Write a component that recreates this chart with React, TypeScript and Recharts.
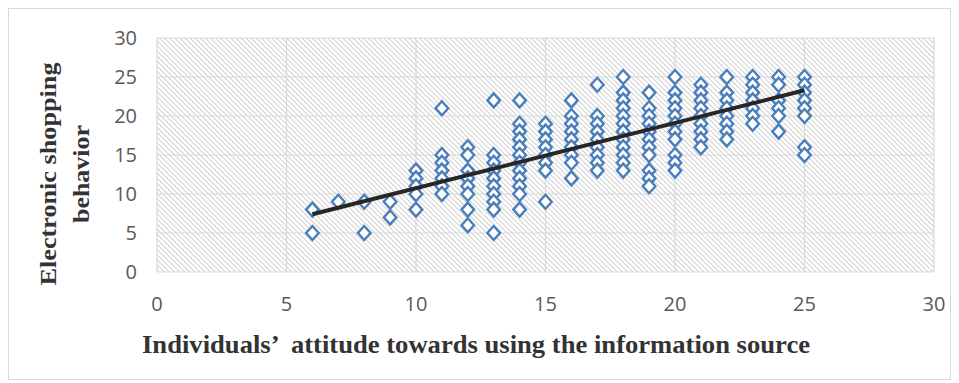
import React from 'react';
import { ScatterChart, Scatter, XAxis, YAxis, CartesianGrid } from 'recharts';

// Individuals' attitude score (x) and the observed shopping-behaviour scores (y) at each x
const attitude = [6, 7, 8, 9, 10, 11, 12, 13, 14, 15, 16, 17, 18, 19, 20, 21, 22, 23, 24, 25];
const behavior: number[][] = [
  [8, 5],
  [9],
  [9, 5],
  [9, 7],
  [13, 12, 11, 10, 8],
  [21, 15, 14, 13, 12, 11, 10],
  [16, 15, 13, 12, 11, 10, 8, 6],
  [22, 15, 14, 13, 12, 11, 10, 9, 8, 5],
  [22, 19, 18, 17, 16, 15, 14, 13, 12, 11, 10, 8],
  [19, 18, 17, 16, 15, 14, 13, 9],
  [22, 20, 19, 18, 17, 16, 15, 14, 12],
  [24, 20, 19, 18, 17, 16, 15, 14, 13],
  [25, 23, 22, 21, 20, 19, 18, 17, 16, 15, 14, 13],
  [23, 21, 20, 19, 18, 17, 16, 15, 13, 12, 11],
  [25, 23, 22, 21, 20, 19, 18, 17, 15, 14, 13],
  [24, 23, 22, 21, 20, 19, 18, 17, 16],
  [25, 23, 22, 21, 20, 19, 18, 17],
  [25, 24, 23, 22, 21, 20, 19],
  [25, 24, 22, 21, 20, 18],
  [25, 24, 23, 22, 21, 20, 16, 15],
];

// Linear trend line end points
const trendX = [6, 25];
const trendY = [7.4, 23.3];

const xTicks = [0, 5, 10, 15, 20, 25, 30];
const yTicks = [0, 5, 10, 15, 20, 25, 30];

const xTitle = 'Individuals’  attitude towards using the information source';
const yTitleLine1 = 'Electronic shopping';
const yTitleLine2 = 'behavior';

const points = attitude.flatMap((x, i) => behavior[i].map((y) => ({ x, y })));
const trend = trendX.map((x, i) => ({ x, y: trendY[i] }));

const Diamond = (props: any) => {
  const { cx, cy } = props;
  if (cx == null || cy == null) return <g />;
  const w = 6.3;
  const h = 7;
  return (
    <polygon
      points={`${cx},${cy - h} ${cx + w},${cy} ${cx},${cy + h} ${cx - w},${cy}`}
      fill="#ffffff"
      stroke="#4A7EBB"
      strokeWidth={2.4}
    />
  );
};

const NoShape = () => <g />;

const tickStyle = { fill: '#595959', fontSize: 20, fontFamily: '"Open Sans", sans-serif' };
const titleFont = '"Liberation Serif", "Times New Roman", serif';

export default function App() {
  return (
    <div style={{ position: 'absolute', left: 0, top: 0, width: 959, height: 383, background: '#fff' }}>
      <div
        style={{
          position: 'absolute',
          left: 8,
          top: 8,
          width: 943,
          height: 372,
          border: '1px solid #d9d9d9',
          boxSizing: 'border-box',
        }}
      />
      <div style={{ position: 'absolute', left: 0, top: 0 }}>
        <ScatterChart width={959} height={383} margin={{ top: 38, right: 25, bottom: 0, left: 0 }}>
          <defs>
            <pattern id="hatch" patternUnits="userSpaceOnUse" width={3.6} height={3.6} patternTransform="rotate(45)">
              <rect x={0} y={0} width={3.6} height={3.6} fill="#ffffff" />
              <rect x={0} y={0} width={3.6} height={1} fill="#cfcfcf" />
            </pattern>
          </defs>
          <CartesianGrid stroke="#d9d9d9" strokeWidth={1.2} fill="url(#hatch)" fillOpacity={1} />
          <XAxis
            type="number"
            dataKey="x"
            domain={[0, 30]}
            ticks={xTicks}
            interval={0}
            axisLine={false}
            tickLine={false}
            tickSize={0}
            tickMargin={25}
            height={111}
            tick={tickStyle}
          />
          <YAxis
            type="number"
            dataKey="y"
            domain={[0, 30]}
            ticks={yTicks}
            interval={0}
            axisLine={false}
            tickLine={false}
            tickSize={0}
            tickMargin={20}
            width={157}
            tick={tickStyle}
          />
          <Scatter data={points} shape={Diamond} isAnimationActive={false} />
          <Scatter
            data={trend}
            shape={NoShape}
            line={{ stroke: '#262626', strokeWidth: 4 }}
            isAnimationActive={false}
          />
        </ScatterChart>
      </div>
      <svg width={959} height={383} style={{ position: 'absolute', left: 0, top: 0, pointerEvents: 'none' }}>
        <text
          x={142}
          y={353}
          fontFamily={titleFont}
          fontWeight="bold"
          fontSize={26}
          fill="#333333"
          textLength={668}
          lengthAdjust="spacingAndGlyphs"
          style={{ whiteSpace: 'pre' }}
        >
          {xTitle}
        </text>
        <text
          transform="translate(56,174) rotate(-90)"
          textAnchor="middle"
          fontFamily={titleFont}
          fontWeight="bold"
          fontSize={23}
          fill="#333333"
          textLength={223}
          lengthAdjust="spacingAndGlyphs"
        >
          {yTitleLine1}
        </text>
        <text
          transform="translate(89,174) rotate(-90)"
          textAnchor="middle"
          fontFamily={titleFont}
          fontWeight="bold"
          fontSize={23}
          fill="#333333"
          textLength={98}
          lengthAdjust="spacingAndGlyphs"
        >
          {yTitleLine2}
        </text>
      </svg>
    </div>
  );
}
